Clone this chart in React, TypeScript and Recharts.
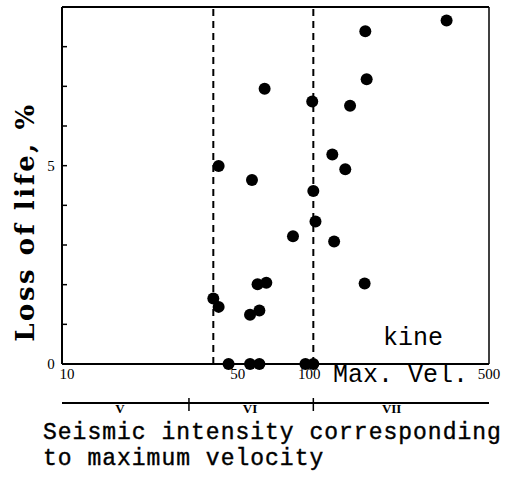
import React from 'react';
import { ScatterChart, Scatter, XAxis, YAxis, ReferenceLine } from 'recharts';

// max. velocity (kine) and loss of life (%)
const velocity = [339, 161, 163, 64, 99, 140, 42, 57, 119, 134, 100, 102, 83, 121, 60, 65, 160, 40, 42, 56, 61, 46, 56, 61, 93, 100];
const lossOfLife = [8.66, 8.39, 7.18, 6.94, 6.62, 6.51, 4.99, 4.64, 5.28, 4.91, 4.36, 3.59, 3.22, 3.09, 2.01, 2.05, 2.03, 1.65, 1.44, 1.24, 1.35, 0, 0, 0, 0, 0];

const velTicks = [10, 50, 100, 500];
const lossTicks = [0, 1, 2, 3, 4, 5, 6, 7, 8, 9];
const lossLabels = [0, 5];
const dashedAt = [40, 100];

// seismic intensity scale under the axis
const intensityBounds = [32, 100];
const intensityNames = ['V', 'VI', 'VII'];
const intensityNamePos = [17, 56, 205];

const points = velocity.map((v, i) => ({ v, loss: lossOfLife[i] }));

const mono = '"Liberation Mono", "DejaVu Sans Mono", monospace';
const serif = '"Liberation Serif", "DejaVu Serif", serif';

const renderYTick = ({ x, y, payload }: any) => (
  <g>
    <line x1={x} x2={x + 5} y1={y} y2={y} stroke="#000" strokeWidth={1.5} />
    {lossLabels.includes(payload.value) && (
      <text x={x - 11} y={y} dy={5} textAnchor="middle" fontFamily={serif} fontSize={15} fill="#000">
        {payload.value}
      </text>
    )}
  </g>
);

const renderXTick = ({ x, y, payload }: any) => (
  <text
    x={x + (payload.value === 10 ? 5 : payload.value === 100 ? -4 : 0)}
    y={y}
    dy={15}
    textAnchor="middle"
    fontFamily={serif}
    fontSize={15}
    fill="#000"
  >
    {payload.value}
  </text>
);

const renderIntensityTick = ({ x, y, payload }: any) => {
  const b = intensityBounds.indexOf(payload.value);
  if (b >= 0) return <line x1={x} x2={x} y1={y - 5} y2={y + 8} stroke="#000" strokeWidth={1.5} />;
  const n = intensityNamePos.indexOf(payload.value);
  return (
    <text x={x} y={y} dy={10} textAnchor="middle" fontFamily={serif} fontWeight="bold" fontSize={13} fill="#000">
      {intensityNames[n]}
    </text>
  );
};

const Dot = (props: any) => <circle cx={props.cx} cy={props.cy} r={6} fill="#000" />;

export default function App() {
  return (
    <div style={{ position: 'absolute', left: 0, top: 0, width: 509, height: 485, background: '#fff' }}>
      <ScatterChart width={509} height={485} margin={{ top: 7, right: 20, left: 61, bottom: 52 }}>
        <XAxis
          dataKey="v"
          type="number"
          scale="log"
          domain={[10, 500]}
          allowDataOverflow
          ticks={velTicks}
          interval={0}
          tick={renderXTick}
          tickLine={false}
          tickSize={0}
          tickMargin={0}
          height={39}
          axisLine={{ stroke: '#000', strokeWidth: 2 }}
        />
        <XAxis
          xAxisId="int"
          dataKey="v"
          type="number"
          scale="log"
          domain={[10, 500]}
          allowDataOverflow
          ticks={[...intensityNamePos, ...intensityBounds]}
          interval={0}
          tick={renderIntensityTick}
          tickLine={false}
          tickSize={0}
          tickMargin={0}
          height={30}
          axisLine={{ stroke: '#000', strokeWidth: 2 }}
        />
        <YAxis
          dataKey="loss"
          type="number"
          domain={[0, 9]}
          ticks={lossTicks}
          interval={0}
          tick={renderYTick}
          tickLine={false}
          tickSize={0}
          tickMargin={0}
          width={1}
          axisLine={{ stroke: '#000', strokeWidth: 2 }}
        />
        <ReferenceLine y={9} stroke="#000" strokeWidth={2} />
        <ReferenceLine x={500} stroke="#000" strokeWidth={1.5} />
        {dashedAt.map((d) => (
          <ReferenceLine key={d} x={d} stroke="#000" strokeWidth={2} strokeDasharray="7 5" />
        ))}
        <Scatter data={points} shape={<Dot />} isAnimationActive={false} />
      </ScatterChart>
      <svg width={509} height={485} style={{ position: 'absolute', left: 0, top: 0, pointerEvents: 'none' }}>
        <text x={34} y={222} transform="rotate(-90 34 222)" textAnchor="middle" fontFamily='"DejaVu Serif", serif' fontWeight="bold" fontSize={26} letterSpacing={2.5} fill="#000">
          Loss of life, %
        </text>
        <text x={383} y={345} fontFamily={mono} fontSize={25} fill="#000">kine</text>
        <text x={333} y={382} fontFamily={mono} fontSize={25} fill="#000">Max. Vel.</text>
        <text x={43} y={439} fontFamily={mono} fontSize={23} letterSpacing={1} fill="#000" stroke="#000" strokeWidth={0.4}>
          Seismic intensity corresponding
        </text>
        <text x={43} y={465} fontFamily={mono} fontSize={23} letterSpacing={1} fill="#000" stroke="#000" strokeWidth={0.4}>
          to maximum velocity
        </text>
      </svg>
    </div>
  );
}
